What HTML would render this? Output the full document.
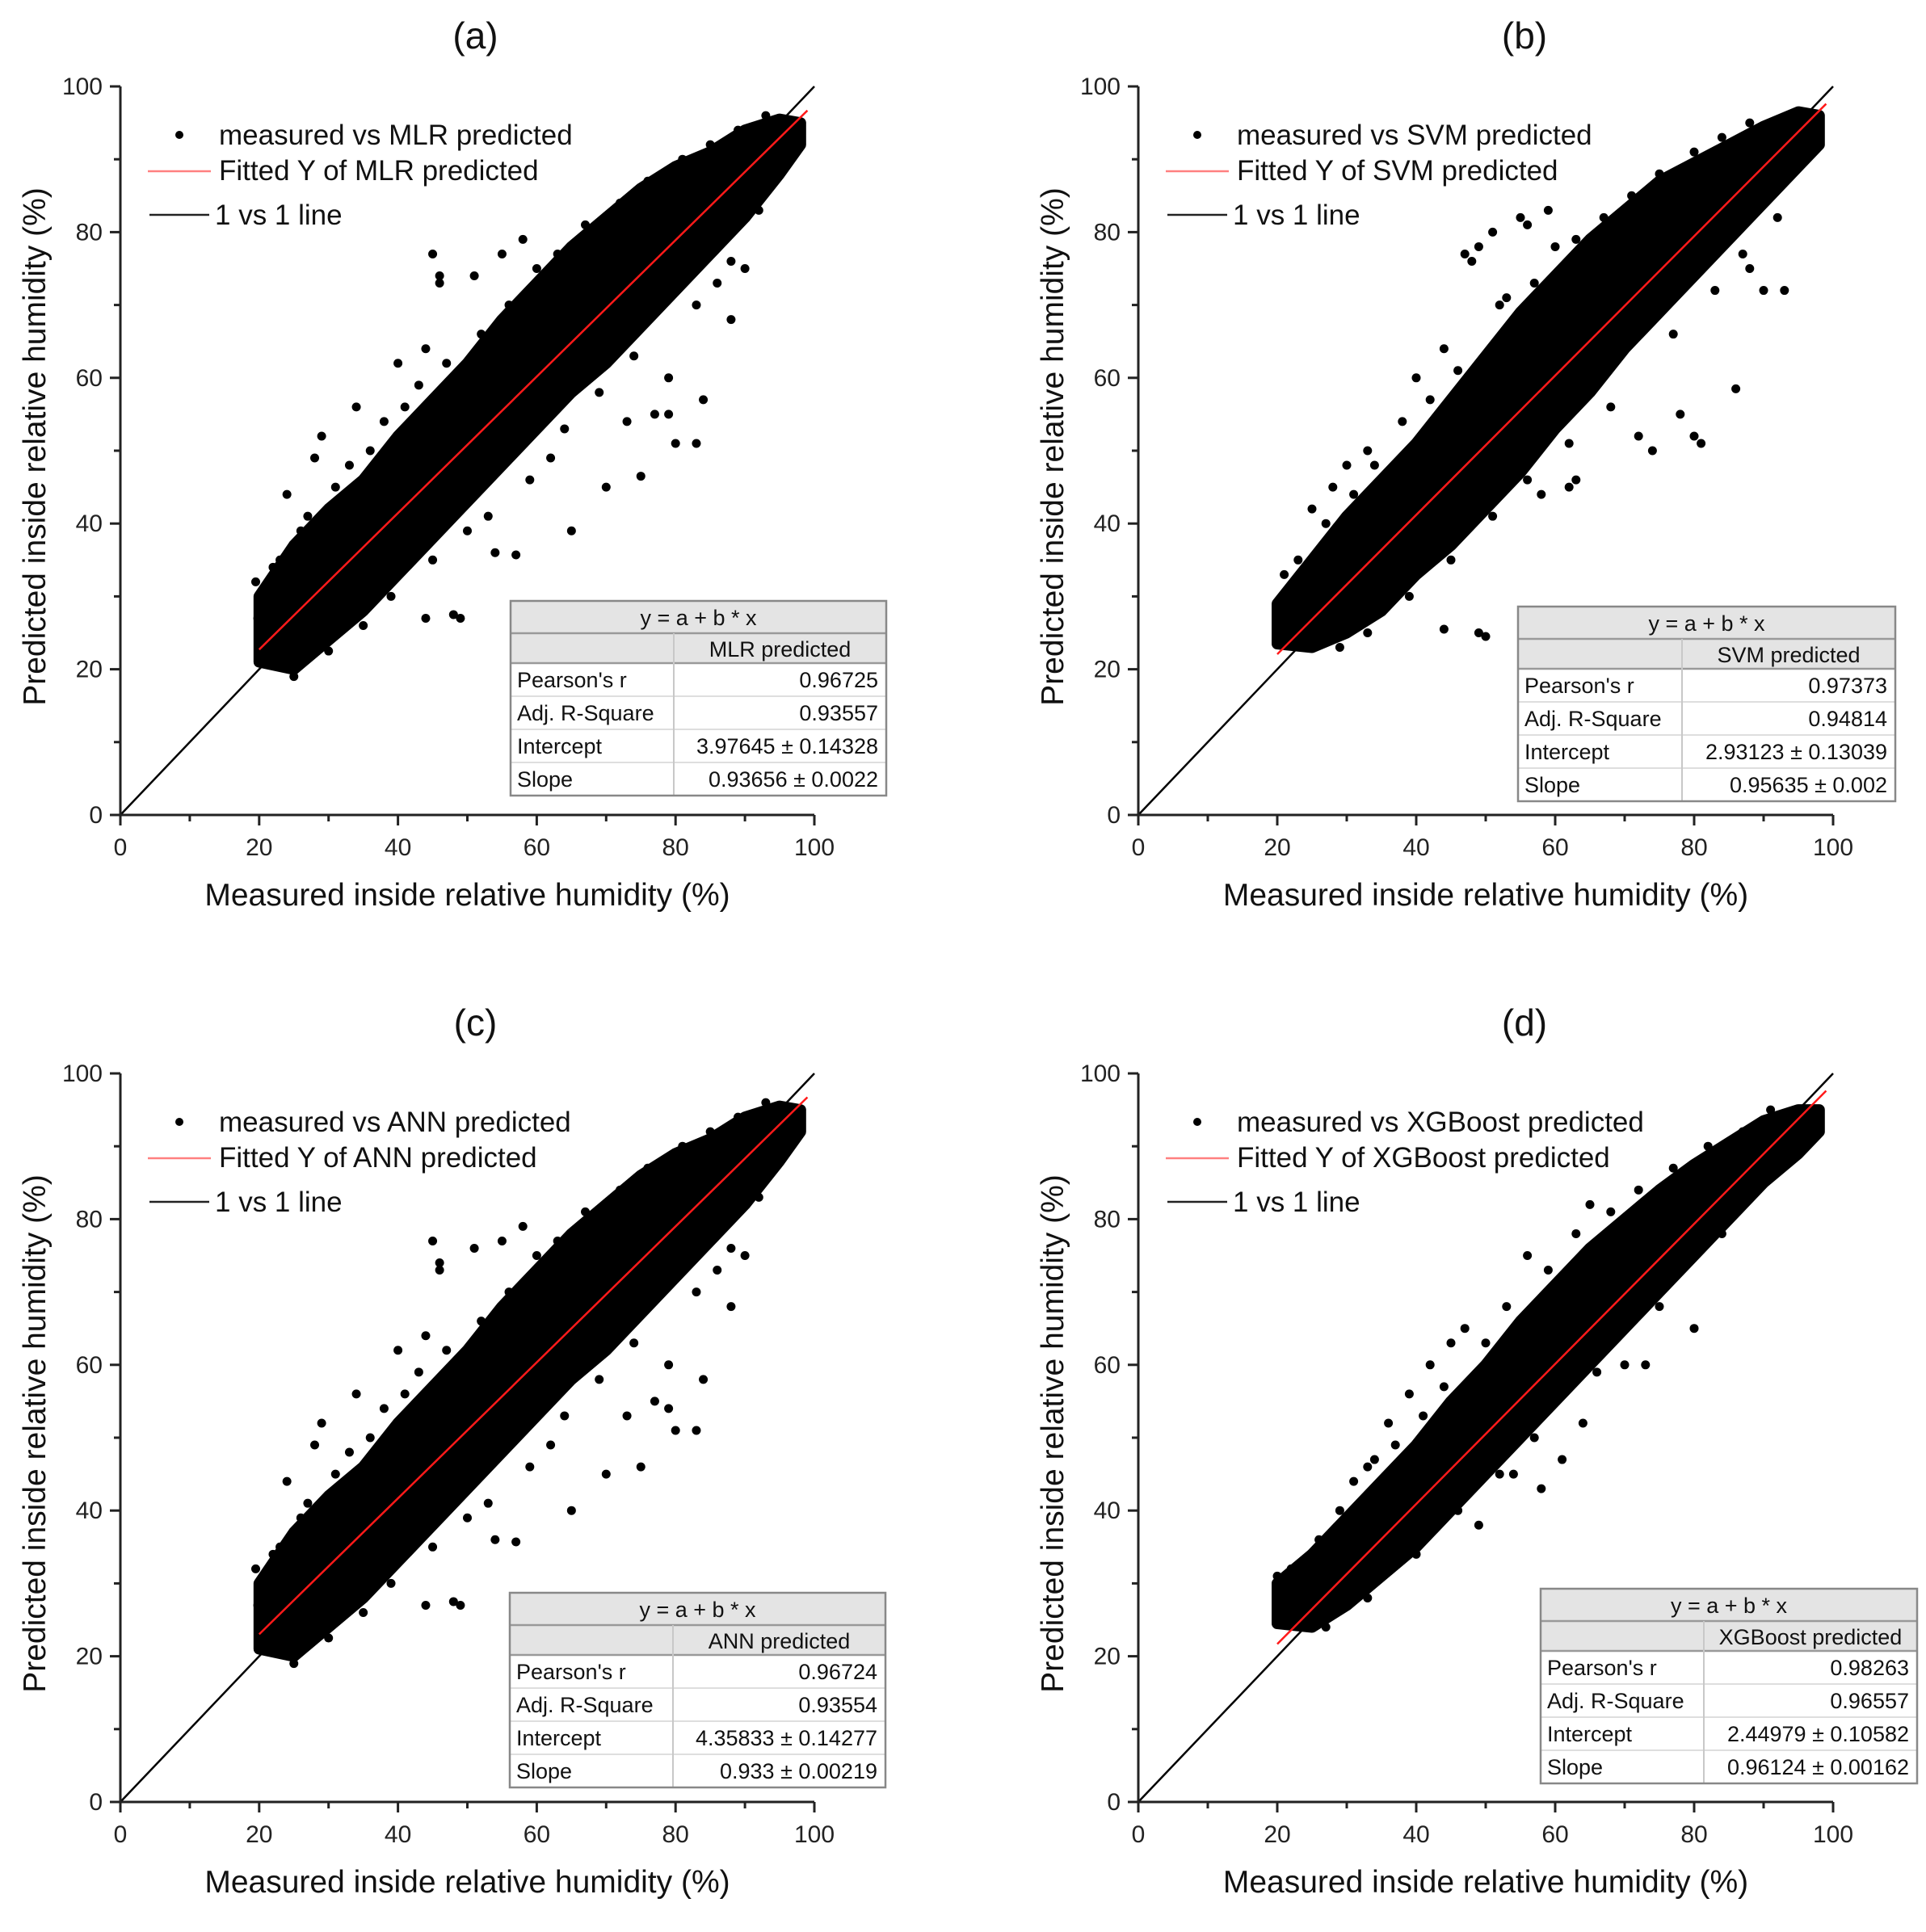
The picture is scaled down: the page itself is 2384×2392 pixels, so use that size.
<!DOCTYPE html>
<html><head><meta charset="utf-8">
<style>
html,body{margin:0;padding:0;background:#fff;}
svg{display:block;font-family:"Liberation Sans",Arial,sans-serif;}
</style></head>
<body>
<svg id="fig" width="2384" height="2392" viewBox="0 0 2384 2392" xmlns="http://www.w3.org/2000/svg"></svg>
<script>
// ---- data ----
const bandX = [20,25,30,35,40,45,50,55,60,65,70,75,80,85,90,95,98];
const mlrLow  = [21,20,24,28,33,38,43,48,53,58,62,67,72,77,82,88,92];
const mlrHigh = [30,37,42,46,52,57,62,68,73,78,82,86,89,91,94,95.5,95];
const svmLow  = [23.5,23,25,28,33,37,42,47,53,58,64,69,74,79,84,89,92];
const svmHigh = [29,35,41,46,51,57,63,69,74,79,83,87,89.5,92,94.5,96.5,96];
const annLow  = [21,20,24,28,33,38,43,48,53,58,62,67,72,77,82,88,92];
const annHigh = [30,37,42,46,52,57,62,68,73,78,82,86,89,91,94,95.5,95];
const xgbLow  = [24.5,24,27,31,35,40,45,50,55,60,65,70,75,80,85,89,92];
const xgbHigh = [30,34,39,44,49,55,60,66,71,76,80,84,87.5,90.5,93.5,95,95];
const mlrOutX = [45,46,46,51,55,58,40,44,34,29,28,24,19.5,19.8,48,49,44,65,70,73,75,77,79,80,83,84,79,86,90,88,54,57,62,50,25,
  22,23,26,27,31,33,36,38,41,43,47,52,56,60,63,67,72,76,81,85,89,93,30,35,39,45,53,59,64,69,74,83,88,92];
const mlrOutY = [77,74,73,74,77,79,62,64,56,52,49,44,32,27,27.5,27,27,39,45,54,46.5,55,55,51,51,57,60,73,75,68,36,35.7,49,39,19,
  34,35,39,41,45,48,50,54,56,59,62,66,70,75,77,81,84,87,90,92,94,96,22.5,26,30,35,41,46,53,58,63,70,76,83];
const svmOutX = [47,48,49,51,55,56,59,60,30,28,25,33,40,44,52,49,50,44,36,58,62,63,72,74,78,80,81,86,90,93,88,
  21,23,27,31,34,38,42,46,53,57,63,67,71,75,80,84,88,29,33,39,45,51,56,62,68,77,83,87,92];
const svmOutY = [77,76,78,80,82,81,83,78,48,45,42,50,60,64,70,25,24.5,25.5,29.5,44,45,46,52,50,55,52,51,58.5,72,72,75,
  33,35,40,44,48,54,57,61,71,73,79,82,85,88,91,93,95,23,25,30,35,41,46,51,56,66,72,77,82];
const annOutX = [45,46,46,51,55,58,40,44,34,29,28,24,19.5,19.8,48,49,44,65,70,73,75,77,79,80,83,84,79,86,90,88,54,57,62,50,25,
  22,23,26,27,31,33,36,38,41,43,47,52,56,60,63,67,72,76,81,85,89,93,30,35,39,45,53,59,64,69,74,83,88,92];
const annOutY = [77,74,73,76,77,79,62,64,56,52,49,44,32,27,27.5,27,27,40,45,53,46,55,54,51,51,58,60,73,75,68,36,35.7,49,39,19,
  34,35,39,41,45,48,50,54,56,59,62,66,70,75,77,81,84,87,90,92,94,96,22.5,26,30,35,41,46,53,58,63,70,76,83];
const xgbOutX = [31,33,36,39,42,47,45,56,65,49,54,61,64,70,73,80,85,20,20.5,38,58,
  22,26,29,34,37,41,44,50,53,59,63,68,72,77,82,87,91,27,33,40,46,52,57,66,75,84,89];
const xgbOutY = [44,46,52,56,60,65,63,75,82,38,45,47,52,60,60,65,88,31,28,34,43,
  32,36,40,47,49,53,57,63,68,73,78,81,84,87,90,92,95,24,28,34,40,45,50,59,68,78,85];
const tickVals = [0,20,40,60,80,100];
const panelLetters = ["(a)","(b)","(c)","(d)"];
const modelNames = ["MLR","SVM","ANN","XGBoost"];
const pearson = ["0.96725","0.97373","0.96724","0.98263"];
const adjR2 = ["0.93557","0.94814","0.93554","0.96557"];
const interceptTxt = ["3.97645 ± 0.14328","2.93123 ± 0.13039","4.35833 ± 0.14277","2.44979 ± 0.10582"];
const slopeTxt = ["0.93656 ± 0.0022","0.95635 ± 0.002","0.933 ± 0.00219","0.96124 ± 0.00162"];
const fitA = [3.97645,2.93123,4.35833,2.44979];
const fitB = [0.93656,0.95635,0.933,0.96124];

const lows=[mlrLow,svmLow,annLow,xgbLow], highs=[mlrHigh,svmHigh,annHigh,xgbHigh];
const outXs=[mlrOutX,svmOutX,annOutX,xgbOutX], outYs=[mlrOutY,svmOutY,annOutY,xgbOutY];

const panels=[
 {x0:149,x1:1008,y0:1009,y1:107, tdx:10, tb:{l:632,r:1097,t:744,c:834}},
 {x0:1409,x1:2269,y0:1009,y1:107, tdx:48, tb:{l:1879,r:2346,t:751,c:2082}},
 {x0:149,x1:1008,y0:2231,y1:1329, tdx:10, tb:{l:631,r:1096,t:1972,c:833}},
 {x0:1409,x1:2269,y0:2231,y1:1329, tdx:48, tb:{l:1907,r:2373,t:1967,c:2109}}
];
const NS="http://www.w3.org/2000/svg";
const svg=document.getElementById('fig');
function mk(tag,attrs,parent){const e=document.createElementNS(NS,tag);for(const k in attrs)e.setAttribute(k,attrs[k]);(parent||svg).appendChild(e);return e;}
function txt(s,attrs,parent){const e=mk('text',attrs,parent);e.textContent=s;return e;}

panels.forEach((p,i)=>{
  const g=mk('g',{});
  
  
  const sx=v=>p.x0+(p.x1-p.x0)*v/100;
  const sy=v=>p.y0+(p.y1-p.y0)*v/100;
  const cx=(p.x0+p.x1)/2;
  const t=txt(panelLetters[i],{x:cx+p.tdx,y:p.y1-47,'font-size':46,'text-anchor':'middle','fill':'#111'},g);
  
  
  let pts=bandX.map((x,k)=>sx(x)+','+sy(highs[i][k]));
  for(let k=bandX.length-1;k>=0;k--)pts.push(sx(bandX[k])+','+sy(lows[i][k]));
  const band=mk('polygon',{points:pts.join(' '),fill:'#000',stroke:'#000','stroke-width':14,'stroke-linejoin':'round'},g);
  
  
  outXs[i].forEach((x,k)=>{
    const c=mk('circle',{cx:sx(x),cy:sy(outYs[i][k]),r:5.5,fill:'#000'},g);
    
    
  });
  const l1=mk('line',{x1:sx(0),y1:sy(0),x2:sx(100),y2:sy(100),stroke:'#000','stroke-width':2.5},g);
  
  
  const fx0=20, fx1=99;
  const fl=mk('line',{x1:sx(fx0),y1:sy(fitA[i]+fitB[i]*fx0),x2:sx(fx1),y2:sy(fitA[i]+fitB[i]*fx1),stroke:'#ff1a1a','stroke-width':2.5},g);
  
  
  const ax=mk('path',{d:`M${p.x0},${p.y1} V${p.y0} H${p.x1}`,fill:'none',stroke:'#222','stroke-width':3},g);
  
  
  for(let v=0;v<=100;v+=10){
    const major=v%20===0;
    mk('line',{x1:sx(v),y1:p.y0,x2:sx(v),y2:p.y0+(major?13:8),stroke:'#222','stroke-width':3},g);
    mk('line',{x1:p.x0,y1:sy(v),x2:p.x0-(major?13:8),y2:sy(v),stroke:'#222','stroke-width':3},g);
  }
  tickVals.forEach(v=>{
    const a=txt(String(v),{x:sx(v),y:p.y0+50,'font-size':30,'text-anchor':'middle',fill:'#222'},g);
    
    
    const b=txt(String(v),{x:p.x0-22,y:sy(v)+10,'font-size':30,'text-anchor':'end',fill:'#222'},g);
    
    
  });
  const xt=txt('Measured inside relative humidity (%)',{x:cx,y:p.y0+112,'font-size':39,'text-anchor':'middle',fill:'#111'},g);
  
  
  const ymid=(p.y0+p.y1)/2-5;
  const yt=txt('Predicted inside relative humidity (%)',{x:p.x0-105,y:ymid,'font-size':39,'text-anchor':'middle',fill:'#111',transform:`rotate(-90 ${p.x0-105} ${ymid}) translate(0 12)`},g);
  
  
  const lx=p.x0, ly=p.y1;
  const lg=mk('g',{},g);
  
  
  mk('circle',{cx:lx+73,cy:ly+60,r:5,fill:'#000'},lg);
  txt('measured vs '+modelNames[i]+' predicted',{x:lx+122,y:ly+72,'font-size':35,fill:'#111'},lg);
  mk('line',{x1:lx+34,y1:ly+105,x2:lx+112,y2:ly+105,stroke:'#ff8080','stroke-width':2.5},lg);
  txt('Fitted Y of '+modelNames[i]+' predicted',{x:lx+122,y:ly+116,'font-size':35,fill:'#111'},lg);
  mk('line',{x1:lx+36,y1:ly+159,x2:lx+110,y2:ly+159,stroke:'#222','stroke-width':2.5},lg);
  txt('1 vs 1 line',{x:lx+117,y:ly+171,'font-size':35,fill:'#111'},lg);
  const T=p.tb;
  const tg=mk('g',{},g);
  
  
  const rows=[T.t,T.t+40,T.t+77,T.t+118,T.t+159,T.t+200,T.t+241];
  mk('rect',{x:T.l,y:rows[0],width:T.r-T.l,height:rows[2]-rows[0],fill:'#e4e4e4'},tg);
  mk('rect',{x:T.l,y:rows[2],width:T.r-T.l,height:rows[6]-rows[2],fill:'#fff'},tg);
  for(let r=1;r<6;r++)mk('line',{x1:T.l,y1:rows[r],x2:T.r,y2:rows[r],stroke:r<=2?'#999':'#d4d4d4','stroke-width':r<=2?2.5:1.5},tg);
  mk('line',{x1:T.c,y1:rows[1],x2:T.c,y2:rows[6],stroke:'#c8c8c8','stroke-width':2},tg);
  mk('rect',{x:T.l,y:rows[0],width:T.r-T.l,height:rows[6]-rows[0],fill:'none',stroke:'#888','stroke-width':2.5},tg);
  txt('y = a + b * x',{x:(T.l+T.r)/2,y:rows[0]+30,'font-size':27,'text-anchor':'middle',fill:'#111'},tg);
  txt(modelNames[i]+' predicted',{x:(T.c+T.r)/2,y:rows[1]+29,'font-size':27,'text-anchor':'middle',fill:'#111'},tg);
  const labels=["Pearson's r","Adj. R-Square","Intercept","Slope"];
  const vals=[pearson[i],adjR2[i],interceptTxt[i],slopeTxt[i]];
  labels.forEach((lb,k)=>{
    txt(lb,{x:T.l+8,y:rows[2+k]+30,'font-size':27,fill:'#111'},tg);
    txt(vals[k],{x:T.r-10,y:rows[2+k]+30,'font-size':27,'text-anchor':'end',fill:'#111'},tg);
  });
});
</script>
</body></html>
